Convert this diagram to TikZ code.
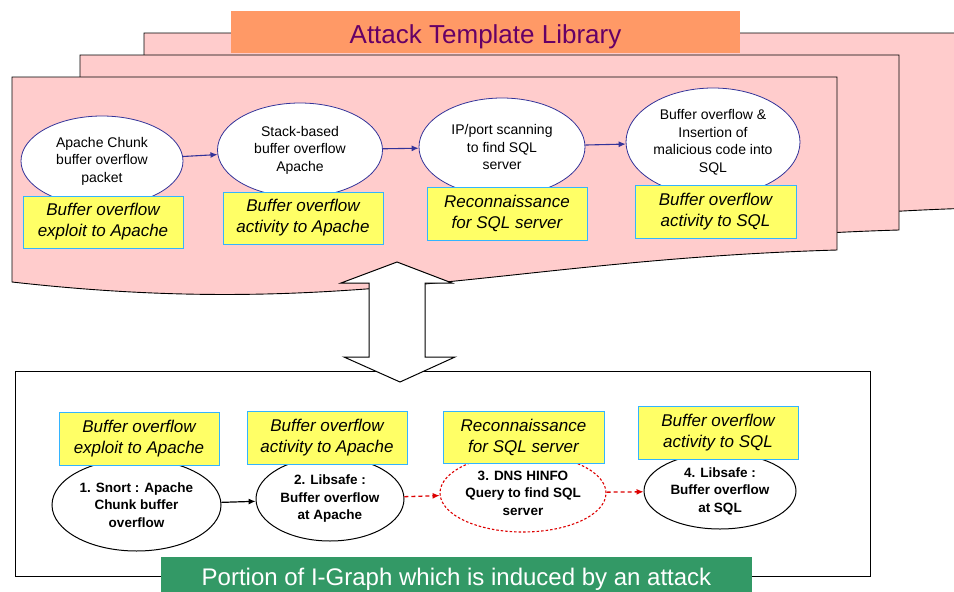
\documentclass[tikz,border=0pt]{standalone}
\usepackage{fontspec}
\setmainfont{Liberation Sans}
\usetikzlibrary{shapes.geometric,arrows.meta}
\definecolor{pagepink}{RGB}{255,204,204}
\definecolor{titleorange}{RGB}{255,153,102}
\definecolor{titlepurple}{RGB}{102,0,102}
\definecolor{boxyellow}{RGB}{255,255,102}
\definecolor{boxblue}{RGB}{51,180,255}
\definecolor{ellblue}{RGB}{51,51,153}
\definecolor{labelgreen}{RGB}{51,153,102}
\definecolor{dashred}{RGB}{221,0,0}
\tikzset{
  page/.style={draw=black, line width=0.9pt, fill=pagepink},
  tmplell/.style={ellipse, draw=ellblue, line width=0.8pt, fill=white, inner sep=0pt, align=center,
    font=\fontsize{14}{17.5}\selectfont},
  graphell/.style={ellipse, draw=black, line width=1pt, fill=white, inner sep=0pt, align=center,
    font=\bfseries\fontsize{13.5}{17.5}\selectfont},
  tagbox/.style={rectangle, draw=boxblue, line width=1pt, fill=boxyellow, inner sep=0pt, align=center,
    minimum width=160pt, minimum height=53pt, font=\itshape\fontsize{17}{21}\selectfont},
  tmplarrow/.style={draw=ellblue, line width=1.1pt, -{Latex[length=7pt,width=6pt]}},
  solidarrow/.style={draw=black, line width=1.2pt, -{Latex[length=7pt,width=6pt]}},
  redarrow/.style={draw=dashred, line width=1.3pt, dash pattern=on 4pt off 3pt, -{Latex[length=7pt,width=6pt]}},
}
\begin{document}
\begin{tikzpicture}[x=1pt,y=-1pt]
\useasboundingbox (0,0) rectangle (954,592);
\clip (0,0) rectangle (954,592);
\fill[white] (0,0) rectangle (954,592);

% stacked pages of the template library
\draw[page] (144,33) -- (975,33) -- (975,208) .. controls (638,218) and (488,278) .. (144,238) -- cycle;
\node[rectangle, fill=titleorange, minimum width=509pt, minimum height=42pt, inner sep=0pt,
  text height=22pt, text depth=0pt,
  text=titlepurple, font=\fontsize{26}{30}\selectfont] (title) at (485.5,32) {Attack Template Library};
\draw[page] (80,55) -- (899,55) -- (899,230) .. controls (562,240) and (412,300) .. (80,260) -- cycle;
\draw[page] (12,77) -- (837,77) -- (837,250) .. controls (500,260) and (350,320) .. (12,282) -- cycle;

% template nodes
\node[tmplell, minimum width=162pt, minimum height=90pt] (t1) at (102,161) {Apache Chunk\\buffer overflow\\packet};
\node[tmplell, minimum width=165pt, minimum height=94pt] (t2) at (300,150) {Stack-based\\buffer overflow\\Apache};
\node[tmplell, minimum width=166pt, minimum height=98pt] (t3) at (502,147) {IP/port scanning\\to find SQL\\server};
\node[tmplell, minimum width=174pt, minimum height=108pt] (t4) at (713,142) {Buffer overflow \&\\Insertion of\\malicious code into\\SQL};

\node[tagbox, minimum width=160pt, minimum height=52pt] (y1) at (103,222) {Buffer overflow\\exploit to Apache};
\node[tagbox, minimum width=160pt, minimum height=52pt] (y2) at (303,218) {Buffer overflow\\activity to Apache};
\node[tagbox, minimum width=160pt, minimum height=53pt] (y3) at (507,213.5) {Reconnaissance\\for SQL server};
\node[tagbox, minimum width=161pt, minimum height=53pt] (y4) at (715.5,211.5) {Buffer overflow\\activity to SQL};

\draw[tmplarrow] (t1) -- (t2);
\draw[tmplarrow] (t2) -- (t3);
\draw[tmplarrow] (t3) -- (t4);

% I-Graph panel
\node[rectangle, draw=black, line width=1pt, fill=white, minimum width=855pt, minimum height=205pt,
  inner sep=0pt, anchor=north west] (panel) at (15,371) {};

\node[graphell, minimum width=169pt, minimum height=92pt] (g1) at (136.5,505) {1. Snort : Apache\\Chunk buffer\\overflow};
\node[graphell, minimum width=148pt, minimum height=84pt] (g2) at (330,499) {2. Libsafe :\\Buffer overflow\\at Apache};
\node[graphell, draw=dashred, line width=1.1pt, dash pattern=on 2.5pt off 2pt, minimum width=166pt, minimum height=78pt] (g3) at (523,493) {3. DNS HINFO\\Query to find SQL\\server};
\node[graphell, minimum width=152pt, minimum height=76pt] (g4) at (720,491) {4. Libsafe :\\Buffer overflow\\at SQL};

\node[tagbox, minimum width=160pt, minimum height=53pt] (b1) at (139,438.5) {Buffer overflow\\exploit to Apache};
\node[tagbox, minimum width=160pt, minimum height=53pt] (b2) at (327,437.5) {Buffer overflow\\activity to Apache};
\node[tagbox, minimum width=161pt, minimum height=52pt] (b3) at (523.5,437) {Reconnaissance\\for SQL server};
\node[tagbox, minimum width=160pt, minimum height=53pt] (b4) at (718,432.5) {Buffer overflow\\activity to SQL};

\draw[solidarrow] (g1) -- (g2);
\draw[redarrow] (g2) -- (g3);
\draw[redarrow] (g3) -- (g4);

\node[rectangle, fill=labelgreen, minimum width=591pt, minimum height=45pt, inner sep=0pt, anchor=north,
  text=white, font=\fontsize{24}{28}\selectfont] (glabel) at (456.5,557) {Portion of I-Graph which is induced by an attack};

% double block arrow between library and I-Graph
\draw[black, line width=1pt, fill=white, line join=miter]
  (397,262) -- (452,283) -- (425,283) -- (425,357) -- (455,357) -- (400,382)
  -- (344,357) -- (369,357) -- (369,283) -- (341,283) -- cycle;
\end{tikzpicture}
\end{document}
